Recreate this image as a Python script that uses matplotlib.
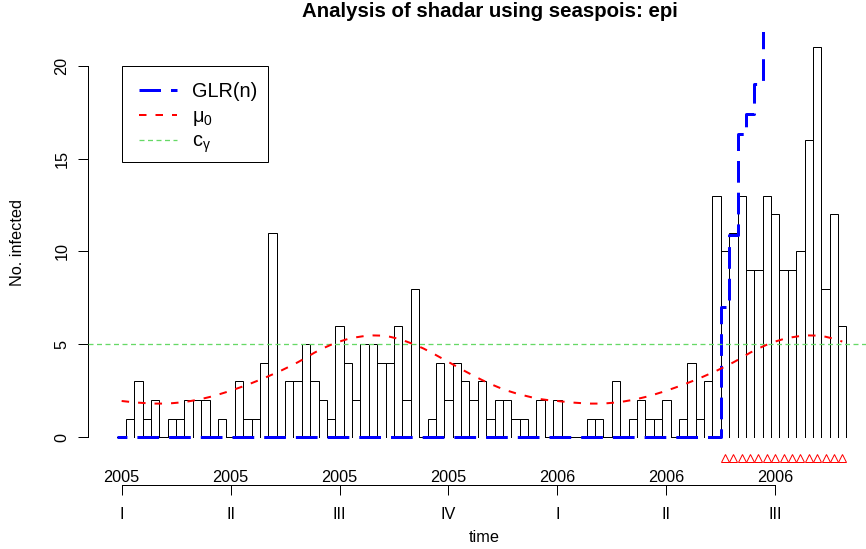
import numpy as np
import matplotlib
matplotlib.use("Agg")
import matplotlib.pyplot as plt
from matplotlib.lines import Line2D
from matplotlib.patches import Rectangle

plt.rcParams['font.family'] = ['Liberation Sans', 'DejaVu Sans']
plt.rcParams['lines.scale_dashes'] = False

# weekly counts (87 weeks starting 2005 week 1)
observed = [0, 1, 3, 1, 2, 0, 1, 1, 2, 2,
            2, 0, 1, 0, 3, 1, 1, 4, 11, 0,
            3, 3, 5, 3, 2, 1, 6, 4, 2, 5,
            5, 4, 4, 6, 2, 8, 0, 1, 4, 2,
            4, 3, 2, 3, 1, 2, 2, 1, 1, 0,
            2, 0, 2, 0, 0, 0, 1, 1, 0, 3,
            0, 1, 2, 1, 1, 2, 0, 1, 4, 1,
            3, 13, 10, 11, 13, 9, 9, 13, 12, 9,
            9, 10, 16, 21, 8, 12, 6]

# seasonal in-control mean mu0
mu0 = [1.95, 1.90, 1.86, 1.83, 1.81, 1.81, 1.83, 1.87, 1.93, 2.01,
       2.11, 2.22, 2.36, 2.50, 2.66, 2.82, 3.00, 3.18, 3.38, 3.58,
       3.80, 4.03, 4.28, 4.55, 4.78, 4.98, 5.15, 5.29, 5.38, 5.45,
       5.48, 5.47, 5.41, 5.30, 5.15, 4.98, 4.78, 4.55, 4.30, 4.05,
       3.80, 3.55, 3.31, 3.08, 2.87, 2.68, 2.51, 2.37, 2.25, 2.14,
       2.05, 1.99, 1.95, 1.90, 1.86, 1.83, 1.81, 1.81, 1.83, 1.87,
       1.93, 2.01, 2.11, 2.22, 2.36, 2.50, 2.66, 2.82, 3.00, 3.18,
       3.38, 3.58, 3.80, 4.03, 4.28, 4.55, 4.78, 4.98, 5.15, 5.29,
       5.38, 5.45, 5.48, 5.47, 5.41, 5.30, 5.15]

# GLR statistic: zero until the alarm, then off the top of the plot (nan = not visible)
glr = [0.0] * 72 + [7.0, 10.9, 16.3, 17.4, 19.0, 24.0] + [np.nan] * 9
alarm = [0] * 72 + [1] * 15
c_gamma = 5

tick_weeks = [1, 14, 27, 40, 53, 66, 79]
tick_years = ["2005", "2005", "2005", "2005", "2006", "2006", "2006"]
tick_quarters = ["I", "II", "III", "IV", "I", "II", "III"]

weeks = np.arange(1, len(observed) + 1)
obs = np.array(observed)

W, H = 866, 549
px = 0.72  # points per pixel at dpi 100
fig = plt.figure(figsize=(W / 100, H / 100), dpi=100)

def fx(x):
    return x / W

def fy(y):
    return 1 - y / H

ax = fig.add_axes([fx(88.3), fy(452.8), 1 - fx(88.3), fy(31.6) - fy(452.8)])
ax.set_xlim(-2.98, 89.83)
ax.set_ylim(-0.84, 21.84)

# observed counts as open "hh" bars (no baseline)
for w, y in zip(weeks, obs):
    ax.plot([w - 0.5, w - 0.5, w + 0.5, w + 0.5], [0, y, y, 0],
            color='black', lw=1 * px, zorder=1, solid_joinstyle='miter')

blue_ls = (11.8 * px, (21.7 * px, 10 * px))
ax.step(weeks - 0.5, glr, where='post', color='blue', lw=3 * px,
        linestyle=blue_ls, zorder=2)
ax.axhline(c_gamma, color='#66D966', lw=1.3 * px, dashes=(5 * px, 3.5 * px), zorder=3)
ax.plot(weeks, mu0, color='red', lw=2 * px, dashes=(7.5 * px, 9 * px), zorder=4)

alarm_weeks = weeks[np.array(alarm) == 1]
ax.plot(alarm_weeks, np.full(len(alarm_weeks), -1.11), linestyle='none', marker='^',
        ms=8.6 * px, mfc='none', mec='red', mew=1 * px, clip_on=False)

# axes styling like base R
for s in ['top', 'right']:
    ax.spines[s].set_visible(False)
ax.spines['left'].set_bounds(0, 20)
ax.spines['left'].set_linewidth(1 * px)
ax.set_yticks([0, 5, 10, 15, 20])
ax.set_yticklabels(["0", "5", "10", "15", "20"], rotation=90, va='center')
ax.tick_params(axis='y', length=10 * px, width=1 * px, pad=6.5, labelsize=11.7)

ax.spines['bottom'].set_position(('data', (437.2 - 485) / 18.57))
ax.spines['bottom'].set_bounds(tick_weeks[0], tick_weeks[-1])
ax.spines['bottom'].set_linewidth(1 * px)
ax.set_xticks(tick_weeks)
ax.set_xticklabels(tick_quarters)
ax.tick_params(axis='x', length=10 * px, width=1 * px, pad=8.5, labelsize=11.7)
for w, yr in zip(tick_weeks, tick_years):
    ax.text(w, (437.2 - 481.5) / 18.57, yr, ha='center', va='baseline',
            fontsize=11.7, clip_on=False)

fig.text(fx(490), fy(11.7), "Analysis of shadar using seaspois: epi",
         ha='center', va='center', fontsize=14.7, fontweight='bold')
fig.text(fx(484), fy(537), "time", ha='center', va='center', fontsize=11.7)
fig.text(fx(18), fy(242), "No. infected", ha='center', va='center',
         rotation=90, fontsize=11.7)

# legend drawn by hand in R style
fig.add_artist(Rectangle((fx(122), fy(162)), fx(268) - fx(122), fy(66) - fy(162),
                         transform=fig.transFigure, fill=False, ec='black', lw=1 * px))
rows = [90, 115, 140]
styles = [dict(color='blue', lw=3 * px, dashes=(21.5 * px, 10 * px)),
          dict(color='red', lw=2 * px, dashes=(7.5 * px, 9 * px)),
          dict(color='#66D966', lw=1.3 * px, dashes=(5 * px, 3.5 * px))]
labels = ["GLR(n)", r"$\mathregular{μ_0}$", r"$\mathregular{c_γ}$"]
for r, st, lab in zip(rows, styles, labels):
    fig.add_artist(Line2D([fx(139), fx(177)], [fy(r), fy(r)],
                          transform=fig.transFigure, **st))
    fig.text(fx(192), fy(r + 7), lab, ha='left', va='baseline', fontsize=14.3)

fig.savefig("out.png", dpi=100)
